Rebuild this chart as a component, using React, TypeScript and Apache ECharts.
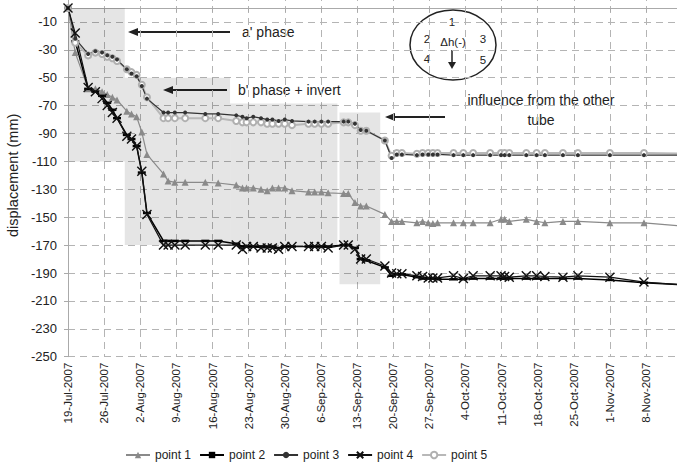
import React, { useEffect, useRef } from 'react';
import * as echarts from 'echarts';

// x tick labels (weekly, starting 19-Jul-2007 = day 0)
const tickLabels = ['19-Jul-2007', '26-Jul-2007', '2-Aug-2007', '9-Aug-2007', '16-Aug-2007', '23-Aug-2007', '30-Aug-2007', '6-Sep-2007', '13-Sep-2007', '20-Sep-2007', '27-Sep-2007', '4-Oct-2007', '11-Oct-2007', '18-Oct-2007', '25-Oct-2007', '1-Nov-2007', '8-Nov-2007'];

// measurement times, days after 19-Jul-2007
const days = [0, 1.4, 3.9, 5.3, 6.6, 7.6, 8.6, 9.5, 11.4, 12.3, 13.3, 14.3, 15.3, 18.5, 19.4, 20.7, 22.7, 26.6, 29.1, 32.6, 33.8, 34.6, 35.9, 37.4, 38.6, 39.6, 40.8, 42.0, 43.4, 46.6, 47.8, 49.1, 50.4, 53.4, 54.3, 55.6, 56.7, 57.8, 61.4, 62.7, 63.7, 64.7, 67.6, 68.7, 69.8, 70.7, 71.6, 74.7, 76.6, 78.5, 81.8, 83.9, 84.6, 85.5, 88.8, 90.8, 92.4, 95.9, 98.8, 105.0, 111.6, 119.5];

const point1 = [0, -32, -58, -58, -60, -62, -64, -66, -74, -76, -78, -89, -105, -119, -124, -125, -125, -125, -125.5, -127, -129, -129, -129, -130, -131, -129, -129, -129, -131, -132, -132, -132, -132.5, -133, -133, -139.5, -142, -142, -148, -153, -153, -153, -154, -153, -154, -154.5, -154, -154, -154, -154, -154, -151.5, -151.5, -153, -151.5, -153, -154, -153, -153, -154, -154, -156.5];
const point2 = [0, -24, -58, -60, -63, -68, -73, -79, -91, -94, -99, -118, -147, -167, -167, -167, -167, -167, -167, -169, -171, -171, -171, -171, -171, -171, -172, -171, -171, -171, -171, -171, -171, -170, -170, -172, -180, -181, -186, -192, -191, -191, -193, -194, -194, -194, -194.5, -194.5, -194.5, -194, -194, -194, -194, -194, -194, -194, -194, -194, -194, -195, -197, -198.5];
const point3 = [0, -22, -33, -31, -32, -34, -35, -37, -44, -47, -49, -56, -65, -75, -75, -75, -75, -76, -76, -77, -78, -79, -78, -79, -80, -80, -81, -80, -81, -81.5, -81.5, -81.5, -81.5, -81.5, -81.5, -83, -87.5, -88, -95, -107.5, -105, -105, -105.5, -105, -105, -105, -105, -105.5, -105.5, -105.5, -105.5, -105.5, -105.5, -105.5, -105.5, -105.5, -105.5, -105.5, -105.5, -105.5, -105.5, -105.5];
const point4 = [0, -18, -57, -60, -65, -70, -75, -79, -92, -94, -99, -117, -148, -170, -170, -170, -170, -170, -170, -170, -173, -171, -171, -172, -172, -172, -173, -171, -171, -171, -171, -171, -172, -170, -170, -173, -180, -180, -185, -190, -190.5, -190.5, -192, -192.5, -193.5, -193.5, -193.5, -192, -194, -192, -192, -192, -192.5, -193, -192, -192, -192.5, -193, -192, -193, -196.5, -198.5];
const point5 = [0, -25, -34, -32, -33, -35, -36, -38, -44, -46, -48, -55, -64, -79, -79, -79, -79, -79, -79, -81, -82, -82, -82, -82, -83, -83, -83, -83, -84, -83, -83, -83, -83, -82, -82, -84, -88, -88, -95, -106, -104, -104, -104.5, -104, -104, -104, -104, -104, -104, -104, -104, -104, -104, -104, -104, -104, -104, -104, -104, -104, -104, -104.5];

// shaded phases: [dayFrom, dayTo, valueTop, valueBottom]
const phaseA = [0, 11, 0, -110];
const phaseB1 = [11, 31.4, -50, -170];
const phaseB2 = [31.4, 52.2, -68.5, -170];
const phaseInfluence = [52.6, 60.5, -75, -198];

const FONT = '"Liberation Sans", Arial, sans-serif';
const OFF = 6; // chart div starts 6px above the page top

const pair = (vals: number[]) => days.map((d, i) => [d, vals[i]]);
const area = (r: number[]) => [{ coord: [r[0], r[2]] }, { coord: [r[1], r[3]] }];

export default function App() {
  const ref = useRef<HTMLDivElement>(null);
  useEffect(() => {
    if (!ref.current) return;
    const chart = echarts.init(ref.current, null, { renderer: 'svg' });
    const arrowLeft = (x1: number, x2: number, y0: number) => {
      const y = y0 + OFF;
      return [
        { type: 'line', shape: { x1: x1 + 6, y1: y, x2, y2: y }, style: { stroke: '#222', lineWidth: 2 } },
        { type: 'polygon', shape: { points: [[x1, y], [x1 + 10, y - 4], [x1 + 10, y + 4]] }, style: { fill: '#222' } },
      ];
    };
    const txt = (text: string, x: number, y: number, size: number, align = 'left') => ({
      type: 'text', x, y: y + OFF,
      style: { text, fontSize: size, fontFamily: FONT, fill: '#222', align, verticalAlign: 'middle' },
    });
    chart.setOption({
      animation: false,
      backgroundColor: '#fff',
      grid: { left: 68, right: 0, top: 0, bottom: 113.3, containLabel: false, outerBoundsMode: 'none' },
      xAxis: {
        type: 'value', min: 0, max: 118, interval: 7,
        axisLine: { show: true, lineStyle: { color: '#aaa' } },
        axisTick: { show: true, length: 4, lineStyle: { color: '#aaa' } },
        splitLine: { show: true, lineStyle: { color: '#b4b4b4', type: [7, 5], width: 1 } },
        axisLabel: {
          rotate: 90, margin: 6, fontSize: 11.5, fontFamily: FONT, color: '#222', showMaxLabel: false,
          formatter: (v: number) => (Math.abs(v / 7 - Math.round(v / 7)) < 1e-6 ? tickLabels[Math.round(v / 7)] || '' : ''),
        },
      },
      yAxis: {
        type: 'value', min: -250, max: 10, interval: 20,
        name: 'displacement (mm)', nameLocation: 'middle', nameRotate: 90, nameGap: 47,
        nameTextStyle: { fontSize: 14.5, fontFamily: FONT, color: '#222' },
        axisLine: { show: true, lineStyle: { color: '#aaa' } },
        axisTick: { show: true, length: 4, lineStyle: { color: '#aaa' } },
        splitLine: { show: true, lineStyle: { color: '#b4b4b4', type: [7, 5], width: 1 } },
        axisLabel: { fontSize: 13, fontFamily: FONT, color: '#222', margin: 11, showMaxLabel: false },
      },
      legend: {
        left: 120, top: 444 + OFF, itemWidth: 24, itemHeight: 8, itemGap: 8,
        textStyle: { fontSize: 12, fontFamily: FONT, color: '#222' },
        data: ['point 1', 'point 2', 'point 3', 'point 4', 'point 5'],
      },
      series: [
        {
          name: 'point 1', type: 'line', data: pair(point1), symbol: 'triangle', symbolSize: 7,
          itemStyle: { color: '#8a8a8a' }, lineStyle: { color: '#8a8a8a', width: 1.2 },
          markArea: {
            silent: true,
            itemStyle: { color: 'rgba(0,0,0,0.1)' },
            data: [area(phaseA), area(phaseB1), area(phaseB2), area(phaseInfluence)],
          },
        },
        {
          name: 'point 2', type: 'line', data: pair(point2), symbol: 'rect', symbolSize: [8, 2.5],
          itemStyle: { color: '#000' }, lineStyle: { color: '#000', width: 1.5 },
        },
        {
          name: 'point 5', type: 'line', data: pair(point5), symbol: 'emptyCircle', symbolSize: 6,
          itemStyle: { color: '#b0b0b0', borderColor: '#b0b0b0' }, lineStyle: { color: '#b8b8b8', width: 2 },
        },
        {
          name: 'point 3', type: 'line', data: pair(point3), symbol: 'circle', symbolSize: 4,
          itemStyle: { color: '#333' }, lineStyle: { color: '#333', width: 1.2 },
        },
        {
          name: 'point 4', type: 'line', data: pair(point4), symbol: 'path://M0,0L10,10M10,0L0,10', symbolSize: 9,
          itemStyle: { color: '#111', borderColor: '#111', borderWidth: 1.4 }, lineStyle: { color: '#111', width: 1.2 },
        },
      ],
      graphic: [
        ...arrowLeft(128, 230, 32),
        txt("a' phase", 242, 32, 14),
        ...arrowLeft(163, 227, 90),
        txt("b' phase + invert", 238, 90, 14),
        ...arrowLeft(385, 445, 117),
        txt('influence from the other', 541, 100, 14, 'center'),
        txt('tube', 541, 120, 14, 'center'),
        { type: 'ellipse', shape: { cx: 453, cy: 45 + OFF, rx: 43, ry: 35 }, style: { fill: '#fff', stroke: '#222', lineWidth: 1.5 } },
        txt('1', 452, 22, 11.5, 'center'),
        txt('2', 427, 39, 11.5, 'center'),
        txt('Δh(-)', 453, 42, 11.5, 'center'),
        txt('3', 483, 39, 11.5, 'center'),
        txt('4', 427, 59, 11.5, 'center'),
        txt('5', 483, 60, 11.5, 'center'),
        { type: 'line', shape: { x1: 452, y1: 50 + OFF, x2: 452, y2: 63 + OFF }, style: { stroke: '#222', lineWidth: 1.5 } },
        { type: 'polygon', shape: { points: [[448, 62 + OFF], [456, 62 + OFF], [452, 69 + OFF]] }, style: { fill: '#222' } },
      ],
    });
    return () => chart.dispose();
  }, []);
  return <div ref={ref} style={{ position: 'fixed', left: 0, top: -OFF, width: 677, height: 470 + OFF }} />;
}
